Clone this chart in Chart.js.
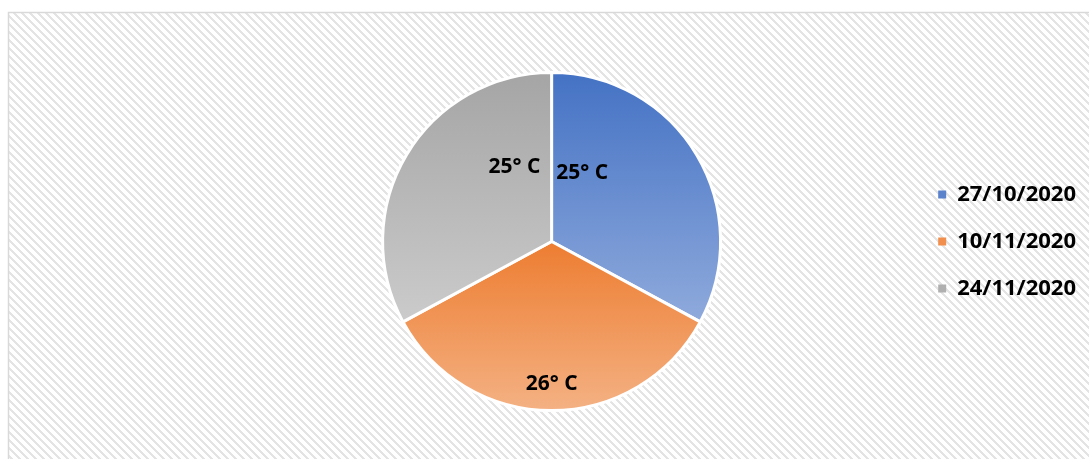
<!DOCTYPE html>
<html>
<head>
<meta charset="utf-8">
<script src="https://cdn.jsdelivr.net/npm/chart.js@4/dist/chart.umd.min.js"></script>
<style>
  html, body { margin: 0; padding: 0; background: #fff; }
  #wrap { width: 1089px; height: 459px; }
</style>
</head>
<body>
<div id="wrap"><canvas id="chart" width="1089" height="459"></canvas></div>
<script>
"use strict";

const dates = ["27/10/2020", "10/11/2020", "24/11/2020"];
const temps = [25, 26, 25];
const labelsText = ["25° C", "26° C", "25° C"];

// gradient colours per slice, top -> bottom
const topColors = ["#4472c4", "#ed7d31", "#a5a5a5"];
const bottomColors = ["#8faadc", "#f4b183", "#cbcbcb"];
const legendColors = ["#5b83cc", "#f08f4e", "#b0b0b0"];

// where the value labels sit: share of the slice angle, share of the radius
const labelSpot = [
  { along: 0.2, out: 0.45, align: "center" },
  { along: 0.5, out: 0.84, align: "center" },
  { along: 0.78, out: 0.5, align: "center" }
];

function makePattern() {
  const c = document.createElement("canvas");
  c.width = 8; c.height = 8;
  const g = c.getContext("2d");
  g.fillStyle = "#ffffff";
  g.fillRect(0, 0, 8, 8);
  g.fillStyle = "#e4e4e4";
  for (let y = 0; y < 8; y++) {
    for (let x = 0; x < 8; x++) {
      const d = ((x - y) % 8 + 8) % 8;
      if (d < 3) g.fillRect(x, y, 1, 1);
    }
  }
  return c;
}

const background = {
  id: "background",
  beforeDraw(chart) {
    const ctx = chart.ctx;
    ctx.save();
    ctx.fillStyle = "#fff";
    ctx.fillRect(0, 0, chart.width, chart.height);
    ctx.fillStyle = ctx.createPattern(makePattern(), "repeat");
    ctx.fillRect(8, 12, chart.width - 8, chart.height - 12);
    ctx.strokeStyle = "#d9d9d9";
    ctx.lineWidth = 1.5;
    ctx.beginPath();
    ctx.moveTo(8.5, chart.height);
    ctx.lineTo(8.5, 12.5);
    ctx.lineTo(chart.width, 12.5);
    ctx.stroke();
    ctx.restore();
  }
};

// vertical gradient over each slice's own height
const sliceGradient = {
  id: "sliceGradient",
  beforeDatasetsDraw(chart) {
    const meta = chart.getDatasetMeta(0);
    meta.data.forEach((arc, i) => {
      const p = arc.getProps(["x", "y", "startAngle", "endAngle", "outerRadius"], true);
      let ys = [p.y, p.y + Math.sin(p.startAngle) * p.outerRadius, p.y + Math.sin(p.endAngle) * p.outerRadius];
      for (let k = -4; k <= 8; k++) {
        const a = k * Math.PI / 2;
        if (a > p.startAngle && a < p.endAngle) ys.push(p.y + Math.sin(a) * p.outerRadius);
      }
      const top = Math.min(...ys), bottom = Math.max(...ys);
      const grad = chart.ctx.createLinearGradient(0, top, 0, bottom);
      grad.addColorStop(0, topColors[i]);
      grad.addColorStop(1, bottomColors[i]);
      arc.options.backgroundColor = grad;
    });
  }
};

const valueLabels = {
  id: "valueLabels",
  afterDatasetsDraw(chart) {
    const ctx = chart.ctx;
    const meta = chart.getDatasetMeta(0);
    ctx.save();
    ctx.font = "bold 21px 'Open Sans'";
    ctx.fillStyle = "#000";
    ctx.textBaseline = "middle";
    meta.data.forEach((arc, i) => {
      const p = arc.getProps(["x", "y", "startAngle", "endAngle", "outerRadius"], true);
      const spot = labelSpot[i];
      const a = p.startAngle + (p.endAngle - p.startAngle) * spot.along;
      const r = p.outerRadius * spot.out;
      ctx.textAlign = spot.align;
      ctx.fillText(labelsText[i], p.x + Math.cos(a) * r, p.y + Math.sin(a) * r + 1);
    });
    ctx.restore();
  }
};

const ctx = document.getElementById("chart").getContext("2d");
const chart = new Chart(ctx, {
  type: "pie",
  data: {
    labels: dates,
    datasets: [{
      data: temps,
      backgroundColor: (c) => topColors[c.dataIndex],
      borderColor: "#ffffff",
      borderWidth: 3
    }]
  },
  options: {
    responsive: false,
    animation: false,
    layout: {
      padding: { left: 190, right: 3, top: 71, bottom: 47 }
    },
    plugins: {
      tooltip: { enabled: false },
      legend: {
        position: "right",
        align: "center",
        labels: {
          boxWidth: 8,
          boxHeight: 8,
          padding: 25,
          color: "#000",
          font: { family: "'Open Sans'", size: 22, weight: "bold" },
          generateLabels(chart) {
            return dates.map((d, i) => ({
              text: d,
              fillStyle: legendColors[i],
              strokeStyle: legendColors[i],
              lineWidth: 0,
              hidden: false,
              index: i
            }));
          }
        }
      }
    }
  },
  plugins: [background, sliceGradient, valueLabels]
});
</script>
</body>
</html>
